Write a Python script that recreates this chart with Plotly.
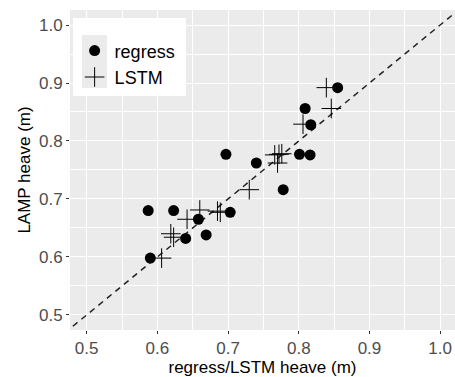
import plotly.graph_objects as go

reg_x = [0.590, 0.587, 0.623, 0.640, 0.658, 0.669, 0.703, 0.697, 0.740, 0.778, 0.801, 0.816, 0.809, 0.817, 0.855]
reg_y = [0.598, 0.680, 0.680, 0.632, 0.665, 0.638, 0.677, 0.777, 0.762, 0.716, 0.777, 0.776, 0.856, 0.828, 0.892]

lstm_x = [0.606, 0.619, 0.623, 0.642, 0.660, 0.685, 0.689, 0.730, 0.766, 0.772, 0.776, 0.770, 0.806, 0.839, 0.846]
lstm_y = [0.598, 0.640, 0.634, 0.665, 0.681, 0.679, 0.677, 0.716, 0.776, 0.777, 0.778, 0.762, 0.829, 0.892, 0.856]

ref_line = [0.3, 1.2]
ticks = [0.5, 0.6, 0.7, 0.8, 0.9, 1.0]
tick_text = ["0.5", "0.6", "0.7", "0.8", "0.9", "1.0"]

fig = go.Figure()
fig.add_trace(go.Scatter(x=ref_line, y=ref_line, mode="lines",
                         line=dict(color="#222222", width=1.5, dash="6px,5px"),
                         showlegend=False, hoverinfo="skip"))
fig.add_trace(go.Scatter(x=reg_x, y=reg_y, mode="markers", name="regress",
                         marker=dict(symbol="circle", size=11, color="black")))
fig.add_trace(go.Scatter(x=lstm_x, y=lstm_y, mode="markers", name="LSTM",
                         marker=dict(symbol="cross-thin-open", size=14, color="black",
                                     line=dict(color="black", width=1))))

axis_common = dict(
    tickvals=ticks, ticktext=tick_text, showgrid=True, gridcolor="white", gridwidth=1.4,
    zeroline=False, ticks="outside", ticklen=3, tickcolor="#333333", tickwidth=1,
    tickfont=dict(family="Liberation Sans, Arial", size=17, color="#4D4D4D"),
    showline=False,
    minor=dict(dtick=0.05, tick0=0.45, showgrid=True, gridcolor="white", gridwidth=0.6, ticks=""),
)

fig.update_xaxes(range=[0.4764, 1.021], **axis_common,
                 title=dict(text="regress/LSTM heave (m)", standoff=8,
                            font=dict(family="Liberation Sans, Arial", size=17, color="black")))
fig.update_yaxes(range=[0.474, 1.0259], **axis_common,
                 title=dict(text="LAMP heave (m)", standoff=4,
                            font=dict(family="Liberation Sans, Arial", size=17, color="black")))

shapes = [
    dict(type="rect", xref="paper", yref="paper", x0=0.0078, x1=0.301, y0=0.731, y1=0.975,
         fillcolor="white", line=dict(width=0), layer="above"),
    dict(type="rect", xref="paper", yref="paper", x0=0.031, x1=0.096, y0=0.756, y1=0.922,
         fillcolor="#EBEBEB", line=dict(width=0), layer="above"),
]

fig.update_layout(
    width=455, height=377,
    margin=dict(l=70, r=0, t=10, b=47, autoexpand=False),
    plot_bgcolor="#EBEBEB", paper_bgcolor="white",
    shapes=shapes,
    legend=dict(x=0.012, y=0.93, xanchor="left", yanchor="top",
                bgcolor="rgba(0,0,0,0)", font=dict(family="Liberation Sans, Arial", size=18, color="black")),
    font=dict(family="Liberation Sans, Arial"),
)

fig.write_html("out.html")
